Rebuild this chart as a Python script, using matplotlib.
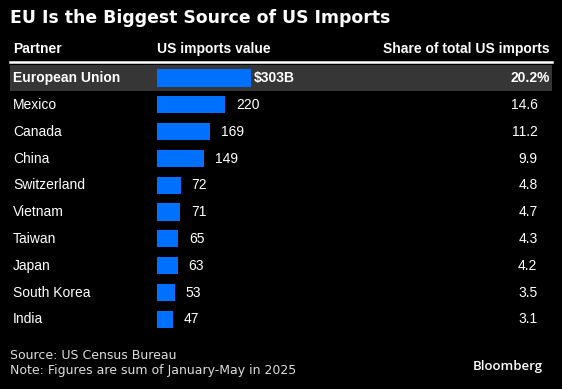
import matplotlib.pyplot as plt

# data
partners = ["European Union", "Mexico", "Canada", "China", "Switzerland",
            "Vietnam", "Taiwan", "Japan", "South Korea", "India"]
imports_bn = [303, 220, 169, 149, 72, 71, 65, 63, 53, 47]
share_pct = [20.2, 14.6, 11.2, 9.9, 4.8, 4.7, 4.3, 4.2, 3.5, 3.1]

W, H = 562, 389
plt.rcParams['font.family'] = ['Liberation Sans', 'DejaVu Sans']

fig = plt.figure(figsize=(W / 100, H / 100), dpi=100, facecolor='black')

def px(x, y):
    # figure pixel -> figure fraction (y from the top)
    return x / W, 1 - y / H

row_top, row_h = 64.6, 26.8
n = len(partners)
bottom = H - (row_top + row_h * n)
pos = [0, bottom / H, 1, row_h * n / H]

# table axes: x in pixels, y in rows
tab = fig.add_axes(pos)
tab.set_xlim(0, W)
tab.set_ylim(n - 0.5, -0.5)
tab.axis('off')

# bar axes: x in $bn; bars start a little left of zero, at the axes edge
bar_left, px_per_bn, zero_px = 157, 0.3035, 158.7
x0 = (bar_left - zero_px) / px_per_bn
bx = fig.add_axes([bar_left / W, pos[1], 1000 * px_per_bn / W, pos[3]])
bx.set_xlim(x0, x0 + 1000)
bx.set_ylim(n - 0.5, -0.5)
bx.axis('off')

# highlight band + top rule
tab.fill_between([10, 552], -0.52, 0.5, color='#363636', lw=0, zorder=0)
tab.plot([10, 552], [-0.58, -0.58], color='white', lw=1.8, clip_on=False)

rows = range(n)
bx.barh(rows, [v - x0 for v in imports_bn], left=x0, height=0.645,
        color='#0070FF', zorder=2)

base = 0.16  # text baseline below row centre, in rows
for i, (name, val, sh) in enumerate(zip(partners, imports_bn, share_pct)):
    first = i == 0
    wt = 'bold' if first else 'normal'
    tab.text(13, i + base, name, color='white', fontsize=10, fontweight=wt,
             va='baseline', ha='left')
    lbl = f"${val}B" if first else f"{val}"
    bx.annotate(lbl, (val, i + base), xytext=(2.0 if first else 7.8, 0),
                textcoords='offset points', color='white', fontsize=10,
                fontweight=wt, va='baseline', ha='left')
    sh_lbl = f"{sh}%" if first else f"{sh}"
    tab.text(550 if first else 537.5, i + base, sh_lbl, color='white',
             fontsize=10, fontweight=wt, va='baseline', ha='right')

# title and headers
fig.text(*px(10, 23), "EU Is the Biggest Source of US Imports", color='white',
         fontsize=12.4, fontweight='bold', family='DejaVu Sans',
         va='baseline', ha='left')
for x, s, ha in [(13, "Partner", 'left'), (157, "US imports value", 'left'),
                 (550, "Share of total US imports", 'right')]:
    fig.text(*px(x, 53.3), s, color='white', fontsize=10, fontweight='bold',
             va='baseline', ha=ha)

# footer
fig.text(*px(10, 359), "Source: US Census Bureau", color='#dddddd',
         fontsize=9, family='DejaVu Sans', va='baseline', ha='left')
fig.text(*px(10, 374), "Note: Figures are sum of January-May in 2025",
         color='#dddddd', fontsize=9, family='DejaVu Sans', va='baseline',
         ha='left')
fig.text(*px(543, 370), "Bloomberg", color='white', fontsize=9.5,
         fontweight='semibold', family='Open Sans', va='baseline', ha='right')

fig.savefig('out.png', dpi=100, facecolor='black')
